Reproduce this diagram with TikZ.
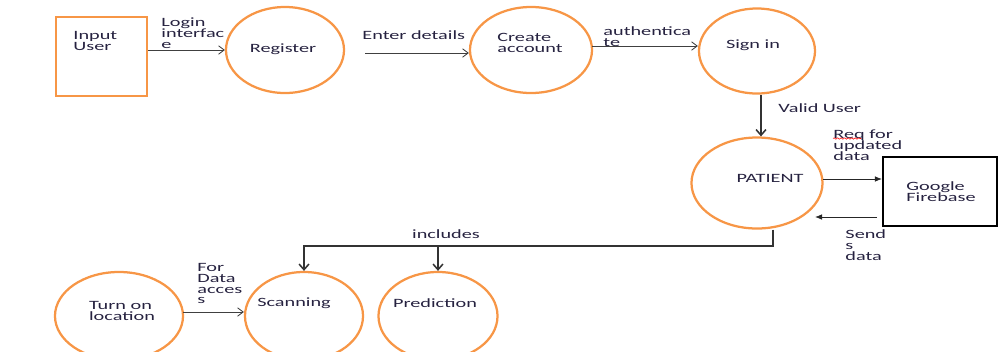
\documentclass[tikz,border=0pt]{standalone}
\usepackage{fontspec}
\setmainfont{Carlito}
\usetikzlibrary{arrows.meta, positioning, calc, shapes.geometric, decorations.pathmorphing}

\definecolor{dfdorange}{RGB}{247,150,70}
\definecolor{dfdtext}{RGB}{38,34,64}
\definecolor{dfdline}{RGB}{64,64,64}

\tikzset{
    proc/.style={ellipse, draw=dfdorange, line width=1.6pt, inner sep=0pt},
    lbl/.style={font=\fontsize{9}{7.8}\selectfont, text=dfdtext, align=left, inner sep=0pt, xscale=1.6},
    flow/.style={draw=dfdline, line width=0.6pt, -{Straight Barb[length=4pt,width=6pt]}},
    bigflow/.style={draw=black!80, line width=1.1pt, -{Straight Barb[length=4pt,width=7pt]}},
    dataflow/.style={draw=black!85, line width=0.6pt, -{Latex[length=5pt,width=4pt]}}
}

\begin{document}
\begin{tikzpicture}[x=0.025cm, y=-0.025cm]
    \useasboundingbox (0,0) rectangle (1006,351);

    \node[draw=dfdorange, line width=2pt, minimum width=2.275cm, minimum height=1.975cm] (user) at (101.5,56.5) {};
    \node[lbl, anchor=west] (usertext) at (73,41) {Input\\User};

    \node[proc, minimum width=2.95cm, minimum height=2.15cm] (reg) at (285,50) {};
    \node[lbl] (regtext) at (283,49) {Register};
    \node[proc, minimum width=3.05cm, minimum height=2.15cm] (acc) at (531,50) {};
    \node[lbl] (acctext) at (530,43) {Create\\account};
    \node[proc, minimum width=2.9cm, minimum height=2.125cm] (sign) at (757,51) {};
    \node[lbl] (signtext) at (753,45) {Sign in};
    \node[proc, minimum width=3.275cm, minimum height=2.275cm] (pat) at (757,183) {};
    \node[lbl] (pattext) at (770,178) {PATIENT};

    \node[draw=black, line width=1.5pt, minimum width=2.85cm, minimum height=1.725cm] (fire) at (940,191.5) {};
    \node[lbl] (firetext) at (941,192) {Google\\Firebase};

    \node[proc, minimum width=3.2cm, minimum height=2.2cm] (loc) at (119,316) {};
    \node[lbl] (loctext) at (122,311) {Turn on\\location};
    \node[proc, minimum width=2.95cm, minimum height=2.2cm] (scan) at (304,316) {};
    \node[lbl] (scantext) at (294,303) {Scanning};
    \node[proc, minimum width=2.975cm, minimum height=2.2cm] (pred) at (438,316) {};
    \node[lbl] (predtext) at (435,303) {Prediction};

    \coordinate (e1) at (365,53);
    \coordinate (a1) at (592,46);
    \coordinate (v1) at (761,95);
    \coordinate (p1) at (823,179);
    \coordinate (f1) at (877,217);
    \coordinate (f2) at (815,217);
    \coordinate (inc) at (773,246);
    \coordinate (l1) at (183,312);

    \draw[flow] (user.east |- reg.west) -- (reg.west);
    \draw[flow] (e1) -- (e1 -| acc.west);
    \draw[flow] (a1) -- (a1 -| sign.west);
    \draw[bigflow] (v1) -- (v1 |- pat.north);
    \draw[dataflow] (p1) -- (p1 -| fire.west);
    \draw[dataflow] (f1) -- (f2);
    \draw[bigflow] (inc |- pat.south) -- (inc) -| (scan.north);
    \draw[bigflow] (inc -| pred.north) -- (pred.north);
    \draw[flow] (l1) -- (l1 -| scan.west);

    \node[lbl, anchor=west] (login) at (161,33) {Login\\interfac\\e};
    \node[lbl, anchor=west] (enter) at (362,35) {Enter details};
    \node[lbl, anchor=west] (auth) at (603,36.5) {authentica\\te};
    \node[lbl, anchor=west] (valid) at (778,108) {Valid User};
    \node[lbl, anchor=west] (req) at (833,145) {Req for\\updated\\data};
    \node[lbl, anchor=west] (sends) at (845,245) {Send\\s\\data};
    \node[lbl] (incl) at (446,234) {includes};
    \node[lbl, anchor=west] (access) at (197,283.5) {For\\Data\\acces\\s};

    \draw[red, line width=0.4pt, decorate, decoration={snake, amplitude=0.5pt, segment length=2.5pt}] (833,138.5) -- (861,138.5);
\end{tikzpicture}
\end{document}
